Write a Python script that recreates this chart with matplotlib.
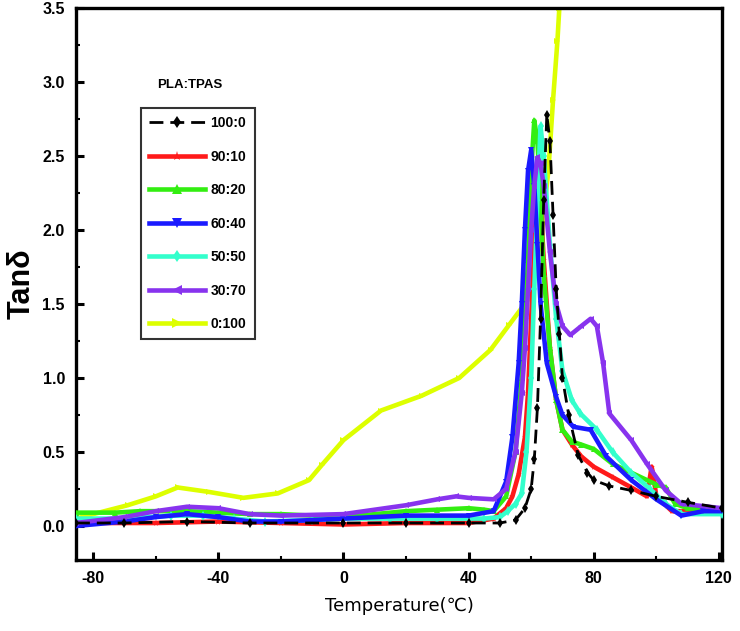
import matplotlib
matplotlib.use("Agg")
import matplotlib.pyplot as plt
from matplotlib.ticker import MultipleLocator

# ---- data ----
labels = ["100:0", "90:10", "80:20", "60:40", "50:50", "30:70", "0:100"]
colors = ["#000000", "#ff1a1a", "#33ee11", "#1a1aff", "#33ffcc", "#8833ee", "#ddff00"]
markers = ["d", "*", "^", "v", "d", "<", ">"]

t_100_0 = [-85.5, -70, -50, -30, 0, 20, 40, 50, 55, 58, 60, 61, 62, 63, 64, 65, 66, 67, 68, 69, 70, 72, 75, 78, 80, 85, 92, 100, 110, 121]
v_100_0 = [0.02, 0.02, 0.03, 0.02, 0.02, 0.02, 0.02, 0.02, 0.04, 0.12, 0.25, 0.45, 0.8, 1.4, 2.2, 2.78, 2.6, 2.1, 1.6, 1.3, 1.0, 0.75, 0.48, 0.36, 0.31, 0.27, 0.24, 0.2, 0.16, 0.12]

t_90_10 = [-85.5, -60, -40, -20, 0, 20, 40, 48, 52, 54, 56, 58, 59, 60, 61, 62, 63, 64, 66, 68, 70, 73, 76, 80, 86, 92, 97, 98.5, 99, 100, 105, 110, 121]
v_90_10 = [0.02, 0.02, 0.03, 0.02, 0.01, 0.02, 0.02, 0.05, 0.12, 0.2, 0.35, 0.6, 0.9, 1.4, 1.9, 2.35, 2.2, 1.8, 1.2, 0.85, 0.65, 0.55, 0.47, 0.4, 0.33, 0.26, 0.2, 0.4, 0.35, 0.2, 0.1, 0.1, 0.1]

t_80_20 = [-85.5, -73, -65, -50, -40, -30, -20, 0, 20, 30, 40, 45, 48, 52, 55, 57, 59, 60, 61, 62, 63, 64, 66, 68, 70, 73, 76, 80, 86, 92, 100, 103, 106, 110, 121]
v_80_20 = [0.09, 0.09, 0.1, 0.1, 0.09, 0.08, 0.08, 0.06, 0.1, 0.11, 0.12, 0.11, 0.1, 0.2, 0.5, 1.0, 1.8, 2.4, 2.74, 2.6, 2.2, 1.7, 1.2, 0.85, 0.65, 0.57, 0.55, 0.52, 0.42, 0.36, 0.28, 0.26, 0.15, 0.12, 0.1]

t_60_40 = [-85.5, -70, -60, -50, -40, -30, -20, 0, 20, 40, 48, 52, 54, 56, 57, 58, 59, 60, 61, 62, 63, 65, 68, 70, 73.5, 79, 84, 92, 100, 108, 115, 121]
v_60_40 = [0.0, 0.03, 0.06, 0.08, 0.06, 0.03, 0.03, 0.05, 0.07, 0.07, 0.1, 0.3, 0.6, 1.1, 1.5, 2.0, 2.4, 2.54, 2.3, 1.9, 1.5, 1.1, 0.87, 0.75, 0.67, 0.65, 0.47, 0.31, 0.18, 0.07, 0.1, 0.1]

t_50_50 = [-85.5, -70, -55, -45, -35, -25, -10, 0, 15, 30, 45, 50, 52.5, 55, 57, 58.5, 60, 61, 62, 63, 64, 66, 68, 70, 73, 75.7, 81, 86, 92, 98, 103, 108, 121]
v_50_50 = [0.05, 0.05, 0.07, 0.07, 0.05, 0.03, 0.04, 0.05, 0.05, 0.05, 0.05, 0.06, 0.1, 0.15, 0.22, 0.5, 1.0, 1.6, 2.2, 2.7, 2.5, 1.9, 1.4, 1.05, 0.85, 0.76, 0.65, 0.5, 0.36, 0.25, 0.15, 0.08, 0.08]

t_30_70 = [-85.5, -70, -60, -50, -40, -30, -20, 0, 20, 30, 36, 40, 48, 52, 55, 57, 58, 59, 60, 61, 62, 63, 64, 66, 68, 70, 72.5, 76, 79, 81, 83, 85, 92, 97, 103, 108, 121]
v_30_70 = [0.02, 0.06, 0.1, 0.13, 0.12, 0.08, 0.07, 0.08, 0.14, 0.18, 0.2, 0.19, 0.18, 0.25, 0.5, 0.9, 1.2, 1.6, 2.0, 2.3, 2.49, 2.45, 2.3, 1.85, 1.5, 1.35, 1.29, 1.35, 1.4, 1.35, 1.1, 0.76, 0.58, 0.42, 0.24, 0.15, 0.12]

t_0_100 = [-85.5, -69, -60, -53, -43, -32, -21, -11, -7, 0, 12, 25, 37, 47, 53, 59, 63, 65.5, 67, 68.4, 69, 70]
v_0_100 = [0.05, 0.14, 0.2, 0.26, 0.23, 0.19, 0.22, 0.31, 0.41, 0.58, 0.78, 0.88, 1.0, 1.19, 1.36, 1.53, 1.93, 2.4, 2.88, 3.28, 3.5, 3.7]

xs = [t_100_0, t_90_10, t_80_20, t_60_40, t_50_50, t_30_70, t_0_100]
ys = [v_100_0, v_90_10, v_80_20, v_60_40, v_50_50, v_30_70, v_0_100]

x_ticks = [-80, -40, 0, 40, 80, 120]
y_ticks = [0.0, 0.5, 1.0, 1.5, 2.0, 2.5, 3.0, 3.5]

# ---- figure ----
plt.rcParams['font.family'] = ['Liberation Sans', 'DejaVu Sans']
plt.rcParams['axes.unicode_minus'] = False
fig = plt.figure(figsize=(7.4, 6.31), dpi=100)
ax = fig.add_axes([76 / 740, 1 - 560 / 631, (722 - 76) / 740, (560 - 8) / 631])

handles = []
zorders = [9, 3, 4, 6, 5, 7, 2]
for i, (x, y) in enumerate(zip(xs, ys)):
    ls = (0, (5, 2.5)) if i == 0 else '-'
    lw = 2.0 if i == 0 else 3.3
    h, = ax.plot(x, y, color=colors[i], linestyle=ls, linewidth=lw,
                 marker=markers[i], markersize=5, markeredgewidth=0,
                 label=labels[i], zorder=zorders[i])
    handles.append(h)

ax.set_xlim(-85.5, 121)
ax.set_ylim(-0.23, 3.5)
ax.set_xticks(x_ticks)
ax.set_yticks(y_ticks)
ax.set_xticklabels([str(v) for v in x_ticks])
ax.set_yticklabels([f"{v:.1f}" for v in y_ticks])
ax.xaxis.set_minor_locator(MultipleLocator(20))
ax.yaxis.set_minor_locator(MultipleLocator(0.25))
ax.tick_params(which='major', direction='in', length=6, width=2.2,
               labelsize=11.5, top=False, right=False, pad=8)
ax.tick_params(which='minor', direction='in', length=3, width=1.5,
               top=False, right=False)
for lab in ax.get_xticklabels() + ax.get_yticklabels():
    lab.set_fontweight('bold')
for s in ax.spines.values():
    s.set_linewidth(2.4)

ax.set_ylabel("Tanδ", fontsize=22, fontweight='bold', labelpad=4,
              family=['Liberation Sans', 'DejaVu Sans'])
ax.set_xlabel("Temperature(℃)", fontsize=13, labelpad=8,
              family=['DejaVu Sans'])

leg = ax.legend(handles=handles, loc='upper left',
                bbox_to_anchor=((141 - 76) / 646, 1 - (108 - 8) / 552),
                frameon=True, fancybox=False, edgecolor='black',
                prop={'weight': 'bold', 'size': 10}, handlelength=4.0,
                labelspacing=1.4, numpoints=1, borderpad=0.6,
                handletextpad=0.4, borderaxespad=0, markerscale=1.3)
leg.get_frame().set_linewidth(1.5)
fig.text(190 / 740, 1 - 85 / 631, "PLA:TPAS", ha='center', va='center',
         fontsize=9.5, fontweight='bold')

fig.savefig("out.png", dpi=100)
